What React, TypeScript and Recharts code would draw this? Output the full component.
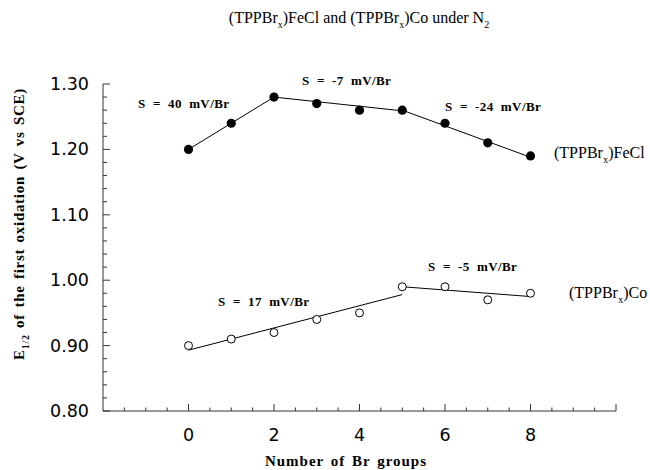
import React from 'react';
import { ComposedChart, XAxis, YAxis, Scatter, ReferenceLine } from 'recharts';

// Data
const brGroups = [0, 1, 2, 3, 4, 5, 6, 7, 8];
const feclE12 = [1.2, 1.24, 1.28, 1.27, 1.26, 1.26, 1.24, 1.21, 1.19];
const coE12 = [0.9, 0.91, 0.92, 0.94, 0.95, 0.99, 0.99, 0.97, 0.98];

// Least-squares fit segments [x, y] drawn in the reference
const feclFitSegments = [
  [[0, 1.2], [2, 1.28]],
  [[2, 1.28], [5, 1.259]],
  [[5, 1.26], [8, 1.188]],
];
const coFitSegments = [
  [[0, 0.893], [5, 0.978]],
  [[5, 0.99], [8, 0.975]],
];

// Axis ticks
const xTicks = [-2, -1.5, -1, -0.5, 0, 0.5, 1, 1.5, 2, 2.5, 3, 3.5, 4, 4.5, 5, 5.5, 6, 6.5, 7, 7.5, 8, 8.5, 9, 9.5, 10];
const xTickLabels = [0, 2, 4, 6, 8];
const yTicks = [0.8, 0.82, 0.84, 0.86, 0.88, 0.9, 0.92, 0.94, 0.96, 0.98, 1.0, 1.02, 1.04, 1.06, 1.08, 1.1, 1.12, 1.14, 1.16, 1.18, 1.2, 1.22, 1.24, 1.26, 1.28, 1.3];
const yTickLabels = [0.8, 0.9, 1.0, 1.1, 1.2, 1.3];

const feclSlopes = ['S  =  40  mV/Br', 'S  =  -7  mV/Br', 'S  =  -24  mV/Br'];
const coSlopes = ['S  =  17  mV/Br', 'S  =  -5  mV/Br'];

const feclPoints = brGroups.map((x, i) => ({ x, y: feclE12[i] }));
const coPoints = brGroups.map((x, i) => ({ x, y: coE12[i] }));

const AXIS = '#333';
const SERIF = 'Liberation Serif';
const SANS = 'DejaVu Sans';

const near = (a: number, b: number) => Math.abs(a - b) < 1e-6;

const XTick = (props: any) => {
  const { x, y, payload } = props;
  const v = payload.value as number;
  if (near(v, -2)) return <g />;
  const major = near(v % 2, 0);
  const showLabel = xTickLabels.some((t) => near(t, v));
  return (
    <g>
      <line x1={x} x2={x} y1={y} y2={y - (major ? 7 : 3.5)} stroke={AXIS} strokeWidth={1} />
      {showLabel && (
        <text x={x} y={y + 30} textAnchor="middle" fontFamily={SANS} fontSize={17.5} fill="#000">
          {v}
        </text>
      )}
    </g>
  );
};

const YTick = (props: any) => {
  const { x, y, payload } = props;
  const v = payload.value as number;
  const label = yTickLabels.find((t) => near(t, v));
  const major = label !== undefined;
  return (
    <g>
      <line x1={x} x2={x + (major ? 7 : 4)} y1={y} y2={y} stroke={AXIS} strokeWidth={1} />
      {major && (
        <text x={x - 14} y={y + 6} textAnchor="end" fontFamily={SANS} fontSize={17.5} fill="#000">
          {(label as number).toFixed(2)}
        </text>
      )}
    </g>
  );
};

const FilledDot = (p: any) => <circle cx={p.cx} cy={p.cy} r={4.6} fill="#000" />;
const OpenDot = (p: any) => <circle cx={p.cx} cy={p.cy} r={4} fill="#fff" stroke="#000" strokeWidth={1} />;

const SlopeText = ({ x, y, children }: any) => (
  <text
    x={x}
    y={y}
    fontFamily={SERIF}
    fontSize={13}
    fontWeight="bold"
    letterSpacing={0.4}
    style={{ whiteSpace: 'pre' }}
    fill="#000"
  >
    {children}
  </text>
);

export default function App() {
  return (
    <div style={{ position: 'absolute', left: 0, top: 0, width: 650, height: 470, background: '#fff' }}>
      <ComposedChart width={650} height={470} margin={{ top: 84, right: 34, bottom: 29, left: 43 }}>
        <XAxis
          type="number"
          dataKey="x"
          domain={[-2, 10]}
          ticks={xTicks}
          interval={0}
          tickSize={0}
          tickMargin={0}
          tickLine={false}
          tick={<XTick />}
          axisLine={{ stroke: AXIS, strokeWidth: 1 }}
          height={30}
          allowDataOverflow
        />
        <YAxis
          type="number"
          dataKey="y"
          domain={[0.8, 1.3]}
          ticks={yTicks}
          interval={0}
          tickSize={0}
          tickMargin={0}
          tickLine={false}
          tick={<YTick />}
          axisLine={{ stroke: AXIS, strokeWidth: 1 }}
          width={60}
          allowDataOverflow
        />
        {feclFitSegments.map((s, i) => (
          <ReferenceLine
            key={'f' + i}
            segment={[{ x: s[0][0], y: s[0][1] }, { x: s[1][0], y: s[1][1] }]}
            stroke="#000"
            strokeWidth={1}
          />
        ))}
        {coFitSegments.map((s, i) => (
          <ReferenceLine
            key={'c' + i}
            segment={[{ x: s[0][0], y: s[0][1] }, { x: s[1][0], y: s[1][1] }]}
            stroke="#000"
            strokeWidth={1}
          />
        ))}
        <Scatter data={feclPoints} shape={<FilledDot />} isAnimationActive={false} />
        <Scatter data={coPoints} shape={<OpenDot />} isAnimationActive={false} />

        {/* Title */}
        <text x={359} y={23} textAnchor="middle" fontFamily={SERIF} fontSize={16} fill="#000">
          (TPPBr<tspan dy={5} fontSize={10}>x</tspan>
          <tspan dy={-5}>)FeCl and (TPPBr</tspan>
          <tspan dy={5} fontSize={10}>x</tspan>
          <tspan dy={-5}>)Co under N</tspan>
          <tspan dy={5} fontSize={10}>2</tspan>
        </text>

        {/* Y axis title */}
        <text
          transform="translate(24,224) rotate(-90)"
          textAnchor="middle"
          fontFamily={SERIF}
          fontSize={15}
          fontWeight="bold"
          letterSpacing={0.7}
          wordSpacing={2}
          fill="#000"
        >
          E<tspan dy={5} fontSize={10}>1/2</tspan>
          <tspan dy={-5}> of the first oxidation (V vs SCE)</tspan>
        </text>

        {/* X axis title */}
        <text
          x={346}
          y={466}
          textAnchor="middle"
          fontFamily={SERIF}
          fontSize={15}
          fontWeight="bold"
          letterSpacing={1}
          wordSpacing={2}
          fill="#000"
        >
          Number of Br groups
        </text>

        {/* Slope annotations */}
        <SlopeText x={138} y={108}>{feclSlopes[0]}</SlopeText>
        <SlopeText x={302} y={85}>{feclSlopes[1]}</SlopeText>
        <SlopeText x={445} y={111}>{feclSlopes[2]}</SlopeText>
        <SlopeText x={218} y={306}>{coSlopes[0]}</SlopeText>
        <SlopeText x={428} y={271}>{coSlopes[1]}</SlopeText>

        {/* Series labels */}
        <text x={554} y={158} fontFamily={SERIF} fontSize={16} fill="#000">
          (TPPBr<tspan dy={5} fontSize={10.5}>x</tspan>
          <tspan dy={-5}>)FeCl</tspan>
        </text>
        <text x={569} y={298} fontFamily={SERIF} fontSize={16} fill="#000">
          (TPPBr<tspan dy={5} fontSize={10.5}>x</tspan>
          <tspan dy={-5}>)Co</tspan>
        </text>
      </ComposedChart>
    </div>
  );
}
